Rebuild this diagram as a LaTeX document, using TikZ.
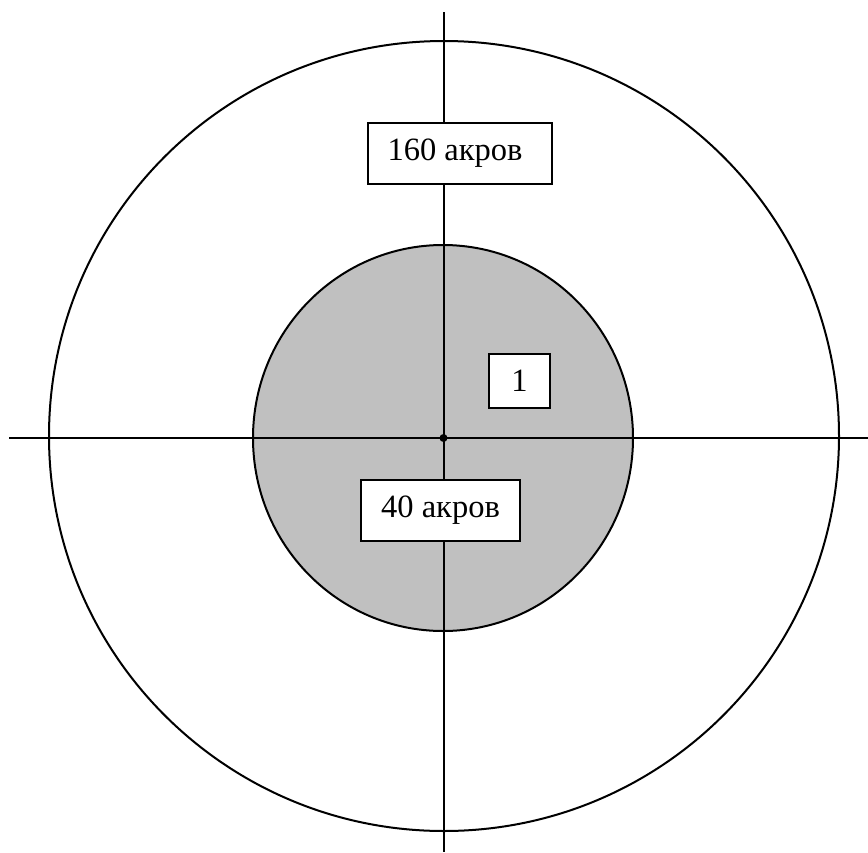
\documentclass[tikz,border=0pt]{standalone}
\usepackage{fontspec}
\setmainfont{Liberation Serif}
\begin{document}
\begin{tikzpicture}[x=1pt,y=-1pt,
  ln/.style={line width=2pt,black},
  lbl/.style={draw=black,line width=2pt,fill=white,inner sep=0pt,font=\fontsize{32.5}{32.5}\selectfont}]
\useasboundingbox (0,0) rectangle (868,852);
\definecolor{discgray}{HTML}{C0C0C0}
\coordinate (c) at (443.5,438);
\coordinate (top) at (443.5,12);
\coordinate (bot) at (443.5,852);
\coordinate (lft) at (9,438);
\coordinate (rgt) at (868,438);
\draw[ln] (444,436) circle[radius=395];
\draw[ln,fill=discgray] (443,438) ellipse[x radius=190,y radius=193];
\draw[ln] (top) -- (bot);
\draw[ln] (lft) -- (rgt);
\fill (c) circle[radius=4];
\node[lbl,minimum width=184,minimum height=61] (b160) at (460,153.5) {\hspace*{-10pt}160 акров};
\node[lbl,minimum width=61,minimum height=54] (b1) at (519.5,381) {1};
\node[lbl,minimum width=159,minimum height=61] (b40) at (440.5,510.5) {40 акров};
\end{tikzpicture}
\end{document}
